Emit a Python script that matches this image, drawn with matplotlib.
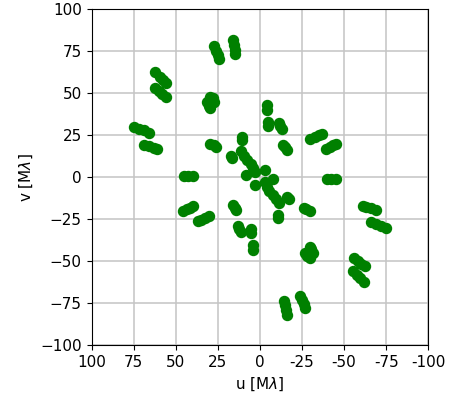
import matplotlib
matplotlib.use("Agg")
import matplotlib.pyplot as plt
import numpy as np

# uv samples for one half-plane (M lambda); the other half is the conjugate (-u, -v)
u_half = [75, 72, 69, 66,
          69, 66, 63, 61,
          62, 59.5, 57.5, 55.5,
          62.5, 60, 58, 56,
          29.8, 31.5, 27, 29.5, 29, 28, 30.5,
          27, 26, 25, 24,
          16, 15.5, 15, 14.5,
          29.5, 27.5, 26,
          10.5, 10.8,
          17, 16.3,
          11.5, 9.5, 7.5, 5.5, 4,
          8, 3, -3,
          45, 42.5, 40,
          -4, -4.3, -5, -5,
          -11.5, -12.2, -13,
          -14, -15, -16,
          -30, -32.5, -35, -37,
          -39.5, -41.5, -43.5, -45.5]
v_half = [30, 29, 28, 26.5,
          19.5, 18.5, 17.5, 17,
          62.5, 60, 58, 56,
          53, 51.5, 49.5, 48,
          48, 45, 45, 41.5, 44, 47, 42.5,
          78, 75.5, 73, 70.5,
          82, 79, 76, 73.5,
          20, 19, 18,
          24, 22.5,
          13, 11.5,
          15.5, 13, 10.5, 8, 5.5,
          1.2, 3, 4.5,
          0.8, 0.8, 0.8,
          43, 40, 33, 30.5,
          32.5, 30.5, 29,
          19.5, 18, 16.5,
          23, 24.2, 25.2, 26,
          17, 18, 19, 20]

u = np.concatenate([u_half, -np.array(u_half)])
v = np.concatenate([v_half, -np.array(v_half)])

ticks = [100, 75, 50, 25, 0, -25, -50, -75, -100]
tick_labels = ['100', '75', '50', '25', '0', '-25', '-50', '-75', '-100']

fig = plt.figure(figsize=(4.49, 3.99), dpi=100)
ax = fig.add_axes([0.2038, 0.1346, 0.750, 0.8416])
ax.plot(u, v, 'o', color='green', markersize=7.2, linestyle='none')
ax.set_xlim(100, -100)
ax.set_ylim(-100, 100)
ax.set_xticks(ticks)
ax.set_xticklabels(tick_labels)
ax.set_yticks(ticks)
ax.grid(True, color='#c4c4c4', linewidth=1.1)
ax.set_axisbelow(True)
ax.tick_params(labelsize=11)
ax.set_xlabel(r'u [M$\lambda$]', fontsize=11)
ax.set_ylabel(r'v [M$\lambda$]', fontsize=11)
fig.savefig('out.png', dpi=100)
